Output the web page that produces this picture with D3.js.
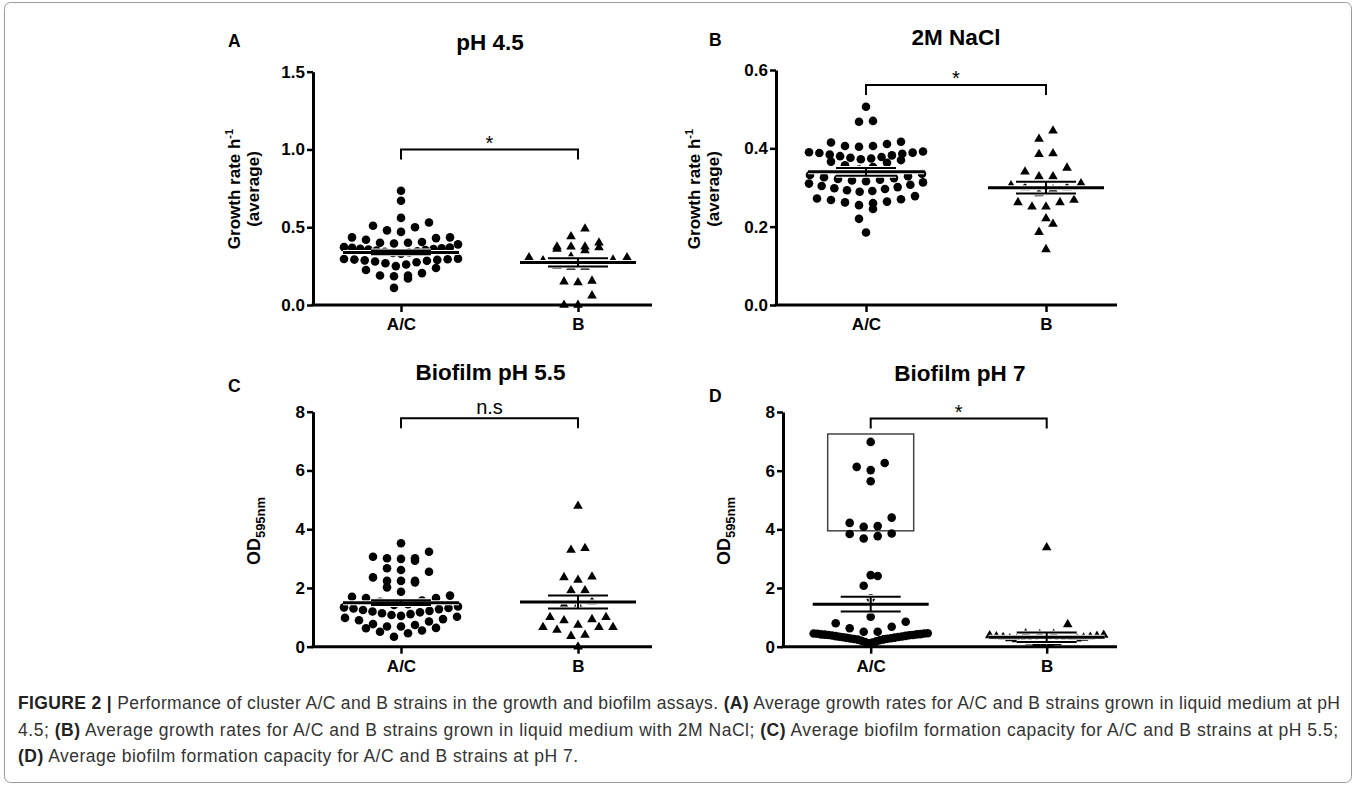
<!DOCTYPE html>
<html>
<head>
<meta charset="utf-8">
<script src="https://cdn.jsdelivr.net/npm/d3@7"></script>
<style>
  body { margin: 0; background: #fff; }
  svg text { font-family: "Liberation Sans", Arial, sans-serif; }
</style>
</head>
<body>
<svg id="fig" width="1357" height="789"></svg>
<script>
// ---- data ----
var groups = ['A/C', 'B'];

// A: growth rate at pH 4.5
var growthPH45AC = [0.735, 0.67, 0.56, 0.53, 0.51, 0.50, 0.48, 0.47,
    0.435, 0.435, 0.43, 0.42, 0.405, 0.40, 0.40, 0.395, 0.39,
    0.372, 0.37, 0.368, 0.365, 0.362, 0.36, 0.357, 0.354, 0.35, 0.346, 0.342, 0.338, 0.334, 0.33,
    0.298, 0.296, 0.294, 0.292, 0.29, 0.287, 0.284, 0.28, 0.275, 0.268, 0.26, 0.25, 0.238, 0.225,
    0.205, 0.19, 0.19, 0.185, 0.17, 0.11];
var growthPH45B = [0.49, 0.44, 0.40, 0.375, 0.375, 0.375, 0.37, 0.36, 0.35, 0.31, 0.305, 0.305,
    0.29, 0.285, 0.26, 0.25, 0.245, 0.245, 0.155, 0.15, 0.145, 0.06, 0.0, 0.0];
var meanPH45 = [0.338, 0.274];
var semPH45 = [0.012, 0.027];
var ticksPH45 = [0, 0.5, 1.0, 1.5];

// B: growth rate in 2M NaCl
var growthNaClAC = [0.506, 0.470, 0.468,
    0.417, 0.415, 0.411, 0.406, 0.406, 0.404,
    0.392, 0.390, 0.389, 0.388, 0.386, 0.384, 0.382, 0.380, 0.378, 0.376, 0.374, 0.372, 0.370,
    0.366, 0.363, 0.357, 0.352, 0.346, 0.335, 0.332, 0.329,
    0.326, 0.324, 0.322, 0.320, 0.318, 0.316, 0.313, 0.310, 0.307, 0.304, 0.301, 0.298, 0.296, 0.293, 0.291, 0.289,
    0.278, 0.272, 0.270, 0.268, 0.264, 0.262, 0.260, 0.255, 0.245,
    0.220, 0.185];
var growthNaClB = [0.445, 0.424, 0.387, 0.385, 0.35, 0.34, 0.328, 0.328, 0.305, 0.30, 0.295, 0.30,
    0.31, 0.285, 0.268, 0.262, 0.251, 0.251, 0.262, 0.221, 0.207, 0.186, 0.142];
var meanNaCl = [0.340, 0.2995];
var semNaCl = [0.010, 0.015];
var ticksNaCl = [0, 0.2, 0.4, 0.6];

// C: biofilm at pH 5.5
var biofilmPH55AC = [3.52, 3.23, 3.06, 3.01, 3.01, 2.99, 2.93, 2.67, 2.61, 2.55, 2.36, 2.24, 2.24, 2.24, 2.19, 2.02, 1.87,
    1.74, 1.70, 1.66, 1.66, 1.57, 1.53, 1.45, 1.42, 1.37, 1.34,
    1.32, 1.30, 1.28, 1.25, 1.22, 1.20, 1.17, 1.14, 1.11, 1.08, 1.05, 1.02, 0.98, 0.94, 0.90, 0.86,
    0.77, 0.74, 0.69, 0.69, 0.64, 0.63, 0.55, 0.51, 0.46, 0.34];
var biofilmPH55B = [4.79, 3.35, 3.29, 2.38, 2.36, 2.27, 1.91, 1.91, 1.53, 1.42, 1.42, 1.0, 1.0,
    0.93, 0.89, 0.74, 0.66, 0.66, 0.66, 0.57, 0.40, 0.36, 0.0];
var meanPH55 = [1.50, 1.52];
var semPH55 = [0.08, 0.22];

// D: biofilm at pH 7
var biofilmPH7AC = [6.98, 6.26, 6.13, 6.02, 5.64, 4.40, 4.22, 4.11, 4.09, 3.86, 3.84, 3.77, 3.69,
    2.44, 2.41, 2.08, 1.65, 1.02, 0.85, 0.80, 0.68, 0.63, 0.51, 0.51,
    0.46, 0.45, 0.45, 0.44, 0.43, 0.42, 0.42, 0.41, 0.40, 0.40, 0.39, 0.38, 0.37, 0.36, 0.35, 0.34,
    0.33, 0.32, 0.31, 0.30, 0.29, 0.28, 0.27, 0.26, 0.25, 0.24, 0.22, 0.20, 0.18, 0.16, 0.14, 0.12];
var biofilmPH7B = [3.38, 0.76, 0.45, 0.43, 0.42, 0.40, 0.38, 0.36, 0.35, 0.33, 0.32, 0.30, 0.28,
    0.27, 0.25, 0.23, 0.21, 0.19, 0.17, 0.15, 0.12, 0.09, 0.06];
var meanPH7 = [1.45, 0.32];
var semPH7 = [0.25, 0.16];
var boxPH7 = [3.95, 7.25];   // highlighted A/C range in panel D
var ticksOD = [0, 2, 4, 6, 8];

var sigLabels = ['*', '*', 'n.s', '*'];
var sigLevels = [1.0, 0.562, 7.78, 7.78];

var captionLines = [
    [['FIGURE 2 | ', 1], ['Performance of cluster A/C and B strains in the growth and biofilm assays. ', 0],
     ['(A)', 1], [' Average growth rates for A/C and B strains grown in liquid medium at pH', 0]],
    [['4.5; ', 0], ['(B)', 1], [' Average growth rates for A/C and B strains grown in liquid medium with 2M NaCl; ', 0],
     ['(C)', 1], [' Average biofilm formation capacity for A/C and B strains at pH 5.5;', 0]],
    [['(D)', 1], [' Average biofilm formation capacity for A/C and B strains at pH 7.', 0]]
];

// ---- layout ----
var panels = [
    {letter: 'A', title: 'pH 4.5', ac: growthPH45AC, b: growthPH45B, mean: meanPH45, sem: semPH45,
     ticks: ticksPH45, fmt: d3.format('.1f'), sig: 0, ylab: 'growth',
     axisX: 313, right: 652, top: 71.7, bottom: 305, cats: [401, 578],
     titleX: 490, titleY: 50, letX: 228, letY: 47, labX: [240, 259], labY: 189},
    {letter: 'B', title: '2M NaCl', ac: growthNaClAC, b: growthNaClB, mean: meanNaCl, sem: semNaCl,
     ticks: ticksNaCl, fmt: d3.format('.1f'), sig: 1, ylab: 'growth',
     axisX: 776, right: 1117, top: 70, bottom: 305, cats: [866, 1046],
     titleX: 956, titleY: 45, letX: 709, letY: 46, labX: [700, 719], labY: 189},
    {letter: 'C', title: 'Biofilm pH 5.5', ac: biofilmPH55AC, b: biofilmPH55B, mean: meanPH55, sem: semPH55,
     ticks: ticksOD, fmt: d3.format('d'), sig: 2, ylab: 'od',
     axisX: 313, right: 652, top: 411.7, bottom: 646.7, cats: [401, 578],
     titleX: 490.5, titleY: 380, letX: 228, letY: 392, labX: [260], labY: 531},
    {letter: 'D', title: 'Biofilm pH 7', ac: biofilmPH7AC, b: biofilmPH7B, mean: meanPH7, sem: semPH7,
     ticks: ticksOD, fmt: d3.format('d'), sig: 3, ylab: 'od', box: boxPH7,
     axisX: 783, right: 1117, top: 412, bottom: 646.7, cats: [870.7, 1046.7],
     titleX: 960, titleY: 380.7, letX: 709, letY: 402, labX: [730], labY: 531}
];

var svg = d3.select('#fig');

// outer frame
svg.append('rect')
    .attr('x', 4.5).attr('y', 2.5).attr('width', 1347).attr('height', 780)
    .attr('rx', 6).attr('fill', 'none').attr('stroke', '#9a9a9a').attr('stroke-width', 1);

// Prism-like scatter: points are binned into rows (rowH px tall), lowest value of a row
// sits in the middle, the rest alternate outwards; crowded rows get squeezed to halfW.
function rowLayout(values, y, rowH, step, halfW) {
    var pts = values.map(function (v) { return {v: v, y: y(v), x: 0}; })
        .sort(function (a, b) { return a.v - b.v; });
    var rows = [], cur = null;
    pts.forEach(function (p) {
        if (!cur || cur.y0 - p.y > rowH) {
            cur = {y0: p.y, pts: []};
            rows.push(cur);
        }
        cur.pts.push(p);
    });
    rows.forEach(function (r) {
        var n = r.pts.length;
        var sp = n > 1 ? Math.min(step, 2 * halfW / (n - 1)) : 0;
        var slots = d3.range(n).map(function (k) { return (k - (n - 1) / 2) * sp; })
            .sort(function (a, b) { return Math.abs(a) - Math.abs(b) || a - b; });
        r.pts.forEach(function (p, k) { p.x = slots[k]; });
    });
    return pts;
}

panels.forEach(function (P) {
    var g = svg.append('g');
    var y = d3.scaleLinear().domain([P.ticks[0], P.ticks[P.ticks.length - 1]]).range([P.bottom, P.top]);
    var x = d3.scalePoint().domain(groups).range(P.cats);

    // title + panel letter
    g.append('text').attr('x', P.titleX).attr('y', P.titleY).attr('text-anchor', 'middle')
        .attr('font-size', 22.5).attr('font-weight', 'bold').text(P.title);
    g.append('text').attr('x', P.letX).attr('y', P.letY)
        .attr('font-size', 17.5).attr('font-weight', 'bold').text(P.letter);

    // y axis
    var yAxis = d3.axisLeft(y).tickValues(P.ticks).tickFormat(P.fmt).tickSize(6).tickSizeOuter(0).tickPadding(2);
    var ga = g.append('g').attr('transform', 'translate(' + P.axisX + ',0)').call(yAxis);
    ga.select('.domain').attr('stroke-width', 3);
    ga.selectAll('.tick line').attr('stroke-width', 2.5);
    ga.selectAll('.tick text').attr('font-size', 17).attr('font-weight', 'bold')
        .attr('font-family', '"Liberation Sans", Arial, sans-serif').attr('fill', '#000');

    // x axis
    g.append('line').attr('x1', P.axisX - 1.5).attr('x2', P.right)
        .attr('y1', P.bottom).attr('y2', P.bottom).attr('stroke', '#000').attr('stroke-width', 3);
    var xAxis = d3.axisBottom(x).tickSize(7).tickSizeOuter(0).tickPadding(6);
    var gx = g.append('g').attr('transform', 'translate(0,' + P.bottom + ')').call(xAxis);
    gx.select('.domain').remove();
    gx.selectAll('.tick line').attr('stroke-width', 2.5);
    gx.selectAll('.tick text').attr('font-size', 17).attr('font-weight', 'bold')
        .attr('font-family', '"Liberation Sans", Arial, sans-serif').attr('fill', '#000');

    // y label
    if (P.ylab === 'growth') {
        var t1 = g.append('text').attr('text-anchor', 'middle').attr('font-size', 17).attr('font-weight', 'bold')
            .attr('transform', 'translate(' + P.labX[0] + ',' + P.labY + ') rotate(-90)');
        t1.append('tspan').text('Growth rate h');
        t1.append('tspan').attr('dy', -7).attr('font-size', 11).text('-1');
        g.append('text').attr('text-anchor', 'middle').attr('font-size', 17).attr('font-weight', 'bold')
            .attr('transform', 'translate(' + P.labX[1] + ',' + P.labY + ') rotate(-90)')
            .text('(average)');
    } else {
        var t2 = g.append('text').attr('text-anchor', 'middle').attr('font-size', 18).attr('font-weight', 'bold')
            .attr('transform', 'translate(' + P.labX[0] + ',' + P.labY + ') rotate(-90)');
        t2.append('tspan').text('OD');
        t2.append('tspan').attr('dy', 5).attr('font-size', 13).text('595nm');
    }

    // highlight box (panel D)
    if (P.box) {
        g.append('rect').attr('x', x('A/C') - 43).attr('width', 86)
            .attr('y', y(P.box[1])).attr('height', y(P.box[0]) - y(P.box[1]))
            .attr('fill', 'none').attr('stroke', '#444').attr('stroke-width', 1.5);
    }

    // points
    var acPts = rowLayout(P.ac, y, 10, 14, 57);
    var bPts = rowLayout(P.b, y, 10, 14, 57);
    g.append('g').selectAll('circle').data(acPts).enter().append('circle')
        .attr('cx', function (d) { return x('A/C') + d.x; })
        .attr('cy', function (d) { return d.y; })
        .attr('r', 4.3).attr('fill', '#000');
    var tri = d3.symbol().type(d3.symbolTriangle).size(40);
    g.append('g').selectAll('path').data(bPts).enter().append('path')
        .attr('d', tri)
        .attr('transform', function (d) { return 'translate(' + (x('B') + d.x) + ',' + d.y + ')'; })
        .attr('fill', '#000');

    // mean +/- SEM
    groups.forEach(function (grp, i) {
        var cx = x(grp), m = P.mean[i], s = P.sem[i];
        var segs = [
            [cx - 58, y(m), cx + 58, y(m), 3],
            [cx - 30, y(m + s), cx + 30, y(m + s), 2],
            [cx - 30, y(m - s), cx + 30, y(m - s), 2],
            [cx, y(m + s), cx, y(m - s), 2]
        ];
        var ge = g.append('g');
        segs.forEach(function (sg) {
            ge.append('line').attr('x1', sg[0]).attr('y1', sg[1]).attr('x2', sg[2]).attr('y2', sg[3])
                .attr('stroke', '#fff').attr('stroke-width', sg[4] + 2);
        });
        segs.forEach(function (sg) {
            ge.append('line').attr('x1', sg[0]).attr('y1', sg[1]).attr('x2', sg[2]).attr('y2', sg[3])
                .attr('stroke', '#000').attr('stroke-width', sg[4]);
        });
    });

    // significance bracket
    var by = y(sigLevels[P.sig]);
    g.append('path')
        .attr('d', 'M' + x('A/C') + ',' + (by + 10) + 'V' + by + 'H' + x('B') + 'V' + (by + 10))
        .attr('fill', 'none').attr('stroke', '#000').attr('stroke-width', 2);
    var lab = sigLabels[P.sig];
    g.append('text').attr('x', (x('A/C') + x('B')) / 2).attr('y', lab === '*' ? by + 0.5 : by - 4)
        .attr('text-anchor', 'middle').attr('font-size', 20).text(lab);
});

// caption
var capY = [709, 736, 762];
var capW = [1322, 1320, 560];
captionLines.forEach(function (line, i) {
    var t = svg.append('text').attr('x', 18).attr('y', capY[i])
        .attr('font-size', 17.5).attr('fill', '#333')
        .attr('textLength', capW[i]).attr('lengthAdjust', 'spacing');
    line.forEach(function (seg) {
        t.append('tspan').attr('font-weight', seg[1] ? 'bold' : 'normal').attr('fill', seg[1] ? '#222' : '#333').text(seg[0]);
    });
});
</script>
</body>
</html>
